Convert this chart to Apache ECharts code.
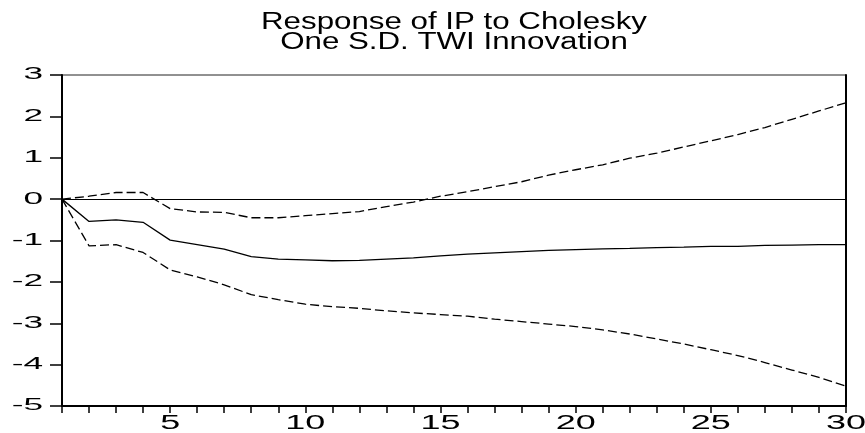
<!DOCTYPE html>
<html>
<head>
<meta charset="utf-8">
<script src="https://cdn.jsdelivr.net/npm/echarts@6/dist/echarts.min.js"></script>
<style>
  html, body { margin: 0; padding: 0; background: #fff; }
  #chart { width: 865px; height: 433px; }
</style>
</head>
<body>
<div id="chart"></div>
<script>
// periods 1..30
const periods = [1,2,3,4,5,6,7,8,9,10,11,12,13,14,15,16,17,18,19,20,21,22,23,24,25,26,27,28,29,30];
// impulse response of IP
const response = [0,-0.54,-0.50,-0.56,-0.99,-1.10,-1.21,-1.39,-1.45,-1.47,-1.49,-1.48,-1.45,-1.42,-1.37,-1.33,-1.30,-1.27,-1.24,-1.22,-1.20,-1.19,-1.17,-1.16,-1.14,-1.14,-1.12,-1.11,-1.10,-1.10];
// +/- 2 S.E. bands
const upperBand = [0,0.07,0.16,0.16,-0.23,-0.31,-0.32,-0.45,-0.45,-0.40,-0.35,-0.30,-0.18,-0.07,0.07,0.18,0.30,0.42,0.58,0.71,0.83,0.99,1.11,1.26,1.41,1.56,1.73,1.93,2.13,2.33];
const lowerBand = [0,-1.13,-1.10,-1.29,-1.71,-1.88,-2.07,-2.31,-2.43,-2.54,-2.60,-2.64,-2.70,-2.75,-2.79,-2.83,-2.90,-2.96,-3.02,-3.08,-3.16,-3.26,-3.38,-3.50,-3.64,-3.78,-3.95,-4.13,-4.31,-4.52];
const yTicks = [3,2,1,0,-1,-2,-3,-4,-5];
const xTicks = [5,10,15,20,25,30];
const titleLines = ["Response of IP to Cholesky", "One S.D. TWI Innovation"];

const chart = echarts.init(document.getElementById("chart"));
const pair = (arr) => periods.map((p, i) => [p, arr[i]]);
const dashed = { color: "#000", width: 1.3, type: [9, 4] };

chart.setOption({
  animation: false,
  grid: { left: 62, right: 19, top: 75, bottom: 27, show: true, borderColor: "#222", borderWidth: 1 },
  xAxis: {
    type: "value", min: 1, max: 30, interval: 1,
    axisLine: { onZero: false, lineStyle: { color: "#000", width: 2 } },
    axisTick: { length: 7, lineStyle: { color: "#000", width: 1.5 } },
    axisLabel: { show: false },
    splitLine: { show: false }
  },
  yAxis: [
    {
      type: "value", min: -5, max: 3, interval: 1,
      axisLine: { show: true, lineStyle: { color: "#000", width: 2 } },
      axisTick: { show: true, length: 12, lineStyle: { color: "#000", width: 1.5 } },
      axisLabel: { show: false },
      splitLine: { show: false }
    },
    {
      type: "value", min: -5, max: 3, interval: 1, position: "right",
      axisLine: { show: true, lineStyle: { color: "#000", width: 2 } },
      axisTick: { show: false }, axisLabel: { show: false }, splitLine: { show: false }
    }
  ],
  series: [
    {
      type: "line", data: pair(response), symbol: "none",
      lineStyle: { color: "#000", width: 1.3 },
      markLine: {
        silent: true, symbol: "none", label: { show: false },
        lineStyle: { color: "#000", width: 1, type: "solid" },
        data: [{ yAxis: 0 }]
      }
    },
    { type: "line", data: pair(upperBand), symbol: "none", lineStyle: dashed },
    { type: "line", data: pair(lowerBand), symbol: "none", lineStyle: dashed }
  ]
});

// stretched labels, placed through the axes
const font = "Liberation Sans, Arial, sans-serif";
const graphics = [];
yTicks.forEach((v) => {
  const pt = chart.convertToPixel({ gridIndex: 0 }, [1, v]);
  graphics.push({
    type: "text", x: pt[0] - 19, y: pt[1], scaleX: 2.2,
    style: { text: String(v), fontSize: 16, fontFamily: font, fill: "#000", textAlign: "right", textVerticalAlign: "middle" }
  });
});
xTicks.forEach((v) => {
  const pt = chart.convertToPixel({ gridIndex: 0 }, [v, -5]);
  graphics.push({
    type: "text", x: pt[0], y: pt[1] + 17, scaleX: 1.8,
    style: { text: String(v), fontSize: 20, fontFamily: font, fill: "#000", textAlign: "center", textVerticalAlign: "middle" }
  });
});
const left = chart.convertToPixel({ gridIndex: 0 }, [1, 3]);
const right = chart.convertToPixel({ gridIndex: 0 }, [30, 3]);
const cx = (left[0] + right[0]) / 2;
titleLines.forEach((t, i) => {
  graphics.push({
    type: "text", x: cx, y: 23 + i * 20, scaleX: 1.36,
    style: { text: t, fontSize: 23, fontFamily: font, fill: "#000", textAlign: "center", textVerticalAlign: "middle" }
  });
});
chart.setOption({ graphic: graphics });
</script>
</body>
</html>
